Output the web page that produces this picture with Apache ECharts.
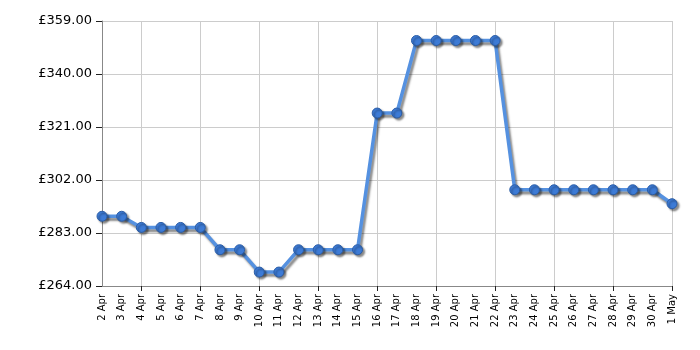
<!DOCTYPE html>
<html lang="en">
<head>
    <meta charset="UTF-8">
    <title>Price history</title>
    <script src="https://cdn.jsdelivr.net/npm/echarts@6/dist/echarts.min.js"></script>
    <style>
        html, body { margin: 0; padding: 0; background: #fff; }
        #chart { width: 700px; height: 350px; }
    </style>
</head>
<body>
<div id="chart"></div>
<script type="text/javascript">
    // dates along the x axis
    var days = ['2 Apr', '3 Apr', '4 Apr', '5 Apr', '6 Apr', '7 Apr', '8 Apr', '9 Apr', '10 Apr', '11 Apr',
        '12 Apr', '13 Apr', '14 Apr', '15 Apr', '16 Apr', '17 Apr', '18 Apr', '19 Apr', '20 Apr', '21 Apr',
        '22 Apr', '23 Apr', '24 Apr', '25 Apr', '26 Apr', '27 Apr', '28 Apr', '29 Apr', '30 Apr', '1 May'];
    // price per day (GBP)
    var prices = [289, 289, 285, 285, 285, 285, 277, 277, 269, 269,
        277, 277, 277, 277, 326, 326, 352, 352, 352, 352,
        352, 298.5, 298.5, 298.5, 298.5, 298.5, 298.5, 298.5, 298.5, 293.5];
    // y axis range
    var yMin = 264, yMax = 359, yStep = 19;

    // grid lines and ticks on every third day, starting at 4 Apr
    var every3rd = function (i) { return i % 3 === 2; };

    var myChart = echarts.init(document.getElementById('chart'));
    myChart.setOption({
        animation: false,
        grid: { left: 102, right: 28, top: 21, bottom: 64 },
        xAxis: {
            type: 'category',
            data: days,
            boundaryGap: false,
            axisLine: { lineStyle: { color: '#888' } },
            axisTick: { interval: every3rd, length: 5, lineStyle: { color: '#222' } },
            axisLabel: {
                interval: 0,
                rotate: 90,
                fontFamily: 'DejaVu Sans',
                fontSize: 10,
                color: '#000',
                margin: 8
            },
            splitLine: { show: true, interval: every3rd, lineStyle: { color: '#ccc' } }
        },
        yAxis: {
            type: 'value',
            min: yMin,
            max: yMax,
            interval: yStep,
            axisLine: { show: true, lineStyle: { color: '#888' } },
            axisTick: { show: true, length: 6, lineStyle: { color: '#222' } },
            axisLabel: {
                fontFamily: 'DejaVu Sans',
                fontSize: 13,
                color: '#000',
                margin: 10,
                formatter: function (v) { return '£' + v.toFixed(2); }
            },
            splitLine: { lineStyle: { color: '#ccc' } }
        },
        series: [{
            type: 'line',
            data: prices,
            symbol: 'circle',
            symbolSize: 10,
            lineStyle: {
                color: '#5591e0',
                width: 3.5,
                shadowColor: 'rgba(0,0,0,0.45)',
                shadowBlur: 2,
                shadowOffsetX: 2,
                shadowOffsetY: 3
            },
            itemStyle: {
                color: '#3d7bd6',
                borderColor: '#2b5da6',
                borderWidth: 1,
                shadowColor: 'rgba(0,0,0,0.45)',
                shadowBlur: 2,
                shadowOffsetX: 2,
                shadowOffsetY: 2
            }
        }]
    });
</script>
</body>
</html>
